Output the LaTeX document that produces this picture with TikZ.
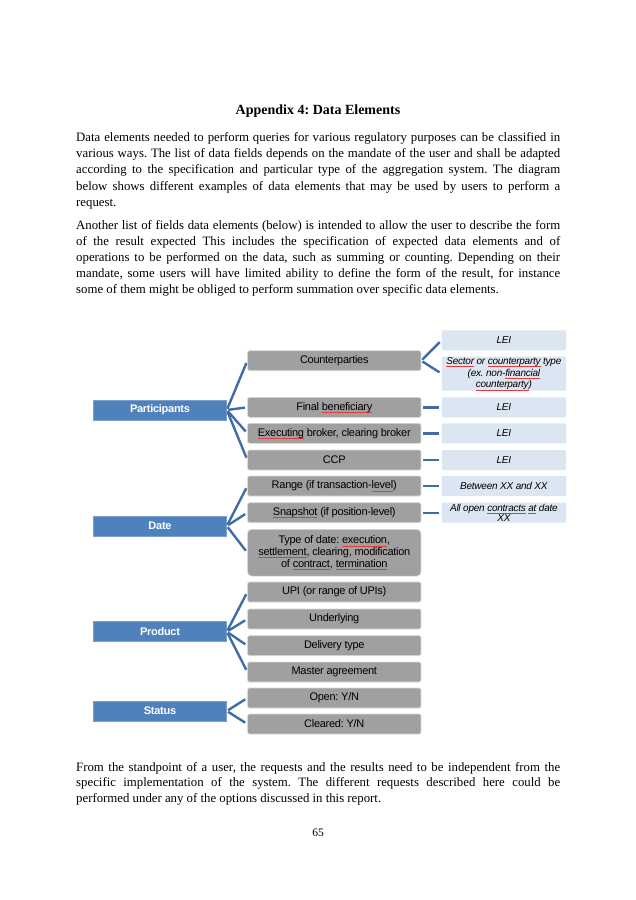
\documentclass[tikz,border=0pt]{standalone}
\usepackage{fontspec}
\setmainfont{Liberation Serif}
\newfontfamily\arialf{Liberation Sans}
\newfontfamily\arialc{Liberation Sans}[LetterSpace=-2.5]
\definecolor{mainblue}{RGB}{79,129,189}
\definecolor{greyf}{RGB}{160,160,160}
\definecolor{leafblue}{RGB}{220,230,242}
\definecolor{connblue}{RGB}{66,108,168}
\definecolor{splred}{RGB}{225,60,60}
\newsavebox\splbox
\newcommand\spl[1]{\sbox\splbox{#1}\rlap{\color{splred}\rule[-2.2pt]{\wd\splbox}{0.4pt}}\usebox\splbox}
\begin{document}
\frenchspacing
\begin{tikzpicture}[x=1pt,y=-1pt,
  para/.style={anchor=base west, inner sep=0, font=\fontsize{12.8}{16}\selectfont\frenchspacing},
  mainbox/.style={fill=mainblue, draw=mainblue!75!white, line width=0.6pt, minimum width=133pt, minimum height=20pt, inner sep=0, text=white, font=\arialc\bfseries\fontsize{11}{13}\selectfont},
  subbox/.style={fill=greyf, draw=white!85!black, line width=0.6pt, rounded corners=1.5pt, minimum width=173.3pt, minimum height=20pt, inner sep=0, font=\arialc\fontsize{11}{11.8}\selectfont, align=center},
  leaf/.style={fill=leafblue, rounded corners=1pt, minimum width=124.3pt, minimum height=20pt, inner sep=0, font=\arialc\itshape\fontsize{10}{11.7}\selectfont, align=center},
  conn/.style={draw=connblue, line width=2.4pt, shorten <=1.5pt, shorten >=2.5pt}]
\useasboundingbox[fill=white] (0,0) rectangle (636,900);

% title
\node[anchor=base, inner sep=0, font=\bfseries\fontsize{14}{16}\selectfont] (title) at (318,114.5) {Appendix 4: Data Elements};

% paragraph 1
\node[para] (a1) at (76,141.5) {\makebox[484pt][s]{Data elements needed to perform queries for various regulatory purposes can be classified in}};
\node[para] (a2) at (76,157.7) {\makebox[484pt][s]{various ways. The list of data fields depends on the mandate of the user and shall be adapted}};
\node[para] (a3) at (76,173.9) {\makebox[484pt][s]{according to the specification and particular type of the aggregation system. The diagram}};
\node[para] (a4) at (76,190.1) {\makebox[484pt][s]{below shows different examples of data elements that may be used by users to perform a}};
\node[para] (a5) at (76,206.3) {request.};

% paragraph 2
\node[para] (b1) at (76,229.5) {\makebox[484pt][s]{Another list of fields data elements (below) is intended to allow the user to describe the form}};
\node[para] (b2) at (76,245.5) {\makebox[484pt][s]{of the result expected This includes the specification of expected data elements and of}};
\node[para] (b3) at (76,261.5) {\makebox[484pt][s]{operations to be performed on the data, such as summing or counting. Depending on their}};
\node[para] (b4) at (76,277.5) {\makebox[484pt][s]{mandate, some users will have limited ability to define the form of the result, for instance}};
\node[para] (b5) at (76,293.5) {some of them might be obliged to perform summation over specific data elements.};

% main category boxes
\node[mainbox] (part) at (160,410) {Participants};
\node[mainbox] (date) at (160,526) {Date};
\node[mainbox] (prod) at (160,631.7) {Product};
\node[mainbox] (stat) at (160,711) {Status};

% second level
\node[subbox] (cp)  at (334.3,360.7) {Counterparties};
\node[subbox] (fb)  at (334.3,407.3) {Final \spl{beneficiary}};
\node[subbox] (eb)  at (334.3,433.3) {\spl{Executing} broker, clearing broker};
\node[subbox] (ccp) at (334.3,460) {CCP};
\node[subbox] (rg)  at (334.3,486) {Range (if transaction-\spl{level})};
\node[subbox] (sn)  at (334.3,512.7) {\spl{Snapshot} (if position-level)};
\node[subbox, minimum height=46.7pt, rounded corners=4pt] (td) at (334.3,552.7) {Type of date: \spl{execution},\\\spl{settlement}, clearing, modification\\of \spl{contract}, \spl{termination}};
\node[subbox] (upi) at (334.3,592) {UPI (or range of UPIs)};
\node[subbox] (und) at (334.3,619) {Underlying};
\node[subbox] (dt)  at (334.3,645.7) {Delivery type};
\node[subbox] (ma)  at (334.3,672) {Master agreement};
\node[subbox] (op)  at (334.3,698) {Open: Y/N};
\node[subbox] (cl)  at (334.3,724) {Cleared: Y/N};

% third level
\node[leaf] (l1) at (503.9,340.3) {LEI};
\node[leaf, minimum height=34pt] (sec) at (503.9,373.7) {\spl{Sector} or \spl{counterparty} type\\(ex. non-\spl{financial}\\\spl{counterparty})};
\node[leaf] (l2) at (503.9,407.3) {LEI};
\node[leaf] (l3) at (503.9,433.3) {LEI};
\node[leaf] (l4) at (503.9,460) {LEI};
\node[leaf] (btw) at (503.9,486) {Between XX and XX};
\node[leaf, font=\arialc\itshape\fontsize{10}{10}\selectfont] (ao) at (503.9,512.7) {All open \spl{contracts} \spl{at} date\\XX};

% connectors
\foreach \c in {cp,fb,eb,ccp} \draw[conn] (part.east) -- (\c.west);
\foreach \c in {rg,sn,td} \draw[conn] (date.east) -- (\c.west);
\foreach \c in {upi,und,dt,ma} \draw[conn] (prod.east) -- (\c.west);
\foreach \c in {op,cl} \draw[conn] (stat.east) -- (\c.west);
\draw[conn] (cp.east) -- (l1.west);
\draw[conn] (cp.east) -- (sec.west);
\draw[conn] (fb.east) -- (l2.west);
\draw[conn] (eb.east) -- (l3.west);
\draw[conn] (ccp.east) -- (l4.west);
\draw[conn] (rg.east) -- (btw.west);
\draw[conn] (sn.east) -- (ao.west);

% closing paragraph
\node[para] (c1) at (76,771) {\makebox[484pt][s]{From the standpoint of a user, the requests and the results need to be independent from the}};
\node[para] (c2) at (76,786.5) {\makebox[484pt][s]{specific implementation of the system. The different requests described here could be}};
\node[para] (c3) at (76,802) {performed under any of the options discussed in this report.};

\node[anchor=base, inner sep=0, font=\fontsize{11.5}{13}\selectfont] (pg) at (318,836) {65};
\end{tikzpicture}
\end{document}
